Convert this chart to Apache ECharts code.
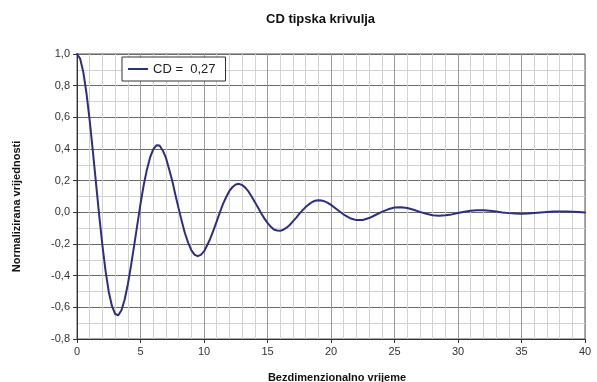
<!DOCTYPE html>
<html>
<head>
<meta charset="utf-8">
<script src="https://cdn.jsdelivr.net/npm/echarts@6/dist/echarts.min.js"></script>
<style>
html,body{margin:0;padding:0;background:#fff;}
#chart{width:597px;height:382px;}
</style>
</head>
<body>
<div id="chart"></div>
<script>
// Bezdimenzionalno vrijeme (x) values
var timeValues = [0,0.25,0.5,0.75,1,1.25,1.5,1.75,2,2.25,2.5,2.75,3,3.25,3.5,3.75,4,4.25,4.5,4.75,5,5.25,5.5,5.75,6,6.25,6.5,6.75,7,7.25,7.5,7.75,8,8.25,8.5,8.75,9,9.25,9.5,9.75,10,10.25,10.5,10.75,11,11.25,11.5,11.75,12,12.25,12.5,12.75,13,13.25,13.5,13.75,14,14.25,14.5,14.75,15,15.25,15.5,15.75,16,16.25,16.5,16.75,17,17.25,17.5,17.75,18,18.25,18.5,18.75,19,19.25,19.5,19.75,20,20.5,21,21.5,22,22.5,23,23.5,24,24.5,25,25.5,26,26.5,27,27.5,28,28.5,29,29.5,30,30.5,31,31.5,32,32.5,33,33.5,34,34.5,35,35.5,36,36.5,37,37.5,38,38.5,39,39.5,40];
// Normalizirana vrijednost (y) values
var cdValues = [1.0,0.970,0.884,0.749,0.579,0.385,0.181,-0.021,-0.208,-0.371,-0.501,-0.591,-0.642,-0.650,-0.618,-0.552,-0.456,-0.338,-0.210,-0.077,0.053,0.171,0.268,0.345,0.398,0.423,0.422,0.391,0.345,0.274,0.200,0.110,0.025,-0.057,-0.132,-0.191,-0.239,-0.267,-0.277,-0.269,-0.247,-0.208,-0.165,-0.112,-0.057,0.000,0.053,0.097,0.135,0.160,0.176,0.180,0.173,0.156,0.132,0.100,0.066,0.030,-0.006,-0.038,-0.067,-0.090,-0.108,-0.115,-0.117,-0.110,-0.097,-0.080,-0.057,-0.035,-0.010,0.012,0.033,0.050,0.064,0.073,0.076,0.075,0.069,0.060,0.047,0.016,-0.014,-0.037,-0.049,-0.048,-0.036,-0.017,0.003,0.019,0.030,0.032,0.027,0.016,0.003,-0.009,-0.018,-0.021,-0.019,-0.013,-0.004,0.004,0.010,0.013,0.013,0.010,0.005,-0.001,-0.005,-0.008,-0.009,-0.0075,-0.0046,-0.001,0.0025,0.0048,0.0058,0.0053,0.0037,0.0014,-0.0009];
var seriesName = 'CD =  0,27';
var titleText = 'CD tipska krivulja';
var xName = 'Bezdimenzionalno vrijeme';
var yName = 'Normalizirana vrijednosti';

var points = timeValues.map(function(t, i){ return [t, cdValues[i]]; });
function fmt(v){ return (Math.round(v*10)/10).toFixed(1).replace('.', ','); }

var chart = echarts.init(document.getElementById('chart'), null, {renderer:'canvas'});
chart.setOption({
  animation: false,
  backgroundColor: '#ffffff',
  title: {
    text: titleText,
    left: 261, top: 8,
    textStyle: {fontFamily: 'Liberation Sans, Arial', fontSize: 13, fontWeight: 'bold', color: '#111'}
  },
  legend: {
    left: 122, top: 57,
    orient: 'horizontal',
    padding: [5, 10, 5, 6],
    icon: 'rect',
    itemWidth: 20, itemHeight: 2, itemGap: 5,
    borderColor: '#333', borderWidth: 1,
    backgroundColor: '#fff',
    textStyle: {fontFamily: 'Liberation Sans, Arial', fontSize: 13, color: '#222', lineHeight: 14},
    data: [seriesName]
  },
  grid: {left: 77, right: 12, top: 54, bottom: 43, show: true, borderColor: '#555', borderWidth: 1, containLabel: false, outerBoundsMode: 'none'},
  xAxis: {
    type: 'value', min: 0, max: 40, interval: 5,
    name: xName, nameLocation: 'middle', nameGap: 33,
    nameTextStyle: {fontFamily: 'Liberation Sans, Arial', fontSize: 11, fontWeight: 'bold', color: '#111', padding: [0, 0, 0, 12]},
    axisLine: {show: true, onZero: false, lineStyle: {color: '#333', width: 1}},
    axisTick: {show: true, length: 4, lineStyle: {color: '#333'}},
    axisLabel: {margin: 7, fontFamily: 'Liberation Sans, Arial', fontSize: 11, color: '#333'},
    splitLine: {show: true, lineStyle: {color: '#999', width: 1}},
    minorTick: {show: false, splitNumber: 5},
    minorSplitLine: {show: true, lineStyle: {color: '#d2d2d2', width: 1}}
  },
  yAxis: {
    type: 'value', min: -0.8, max: 1.0, interval: 0.2,
    name: yName, nameLocation: 'middle', nameGap: 55, nameRotate: 90,
    nameTextStyle: {fontFamily: 'Liberation Sans, Arial', fontSize: 11, fontWeight: 'bold', color: '#111', padding: [0, 20, 0, 0]},
    axisLine: {show: true, onZero: false, lineStyle: {color: '#333', width: 1}},
    axisTick: {show: true, length: 4, lineStyle: {color: '#333'}},
    axisLabel: {margin: 7, fontFamily: 'Liberation Sans, Arial', fontSize: 11, color: '#333', formatter: fmt},
    splitLine: {show: true, lineStyle: {color: '#6a6a6a', width: 1}},
    minorTick: {show: false, splitNumber: 2},
    minorSplitLine: {show: true, lineStyle: {color: '#d2d2d2', width: 1}}
  },
  series: [{
    name: seriesName,
    type: 'line',
    data: points,
    smooth: false,
    symbol: 'none',
    lineStyle: {color: '#2e2e82', width: 2, join: 'round', cap: 'round'},
    itemStyle: {color: '#2e2e82'}
  }]
});
</script>
</body>
</html>
